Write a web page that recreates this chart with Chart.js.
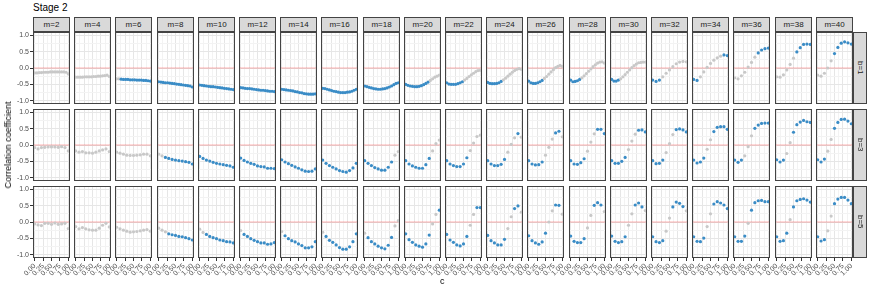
<!DOCTYPE html>
<html>
<head>
<meta charset="utf-8">
<script src="https://cdn.jsdelivr.net/npm/chart.js@4.4.1/dist/chart.umd.min.js"></script>
<style>
body{margin:0;background:#fff;font-family:"Liberation Sans",Arial,sans-serif;}
#fig{position:relative;width:872px;height:291px;overflow:hidden;background:#fff;}
#fig canvas{position:absolute;}
.strip{position:absolute;box-sizing:border-box;background:#d9d9d9;border:1px solid #444;color:#1a1a1a;font-size:8px;display:flex;align-items:center;justify-content:center;}
.strip.v span{writing-mode:vertical-rl;}
.lab{position:absolute;color:#000;white-space:nowrap;}
</style>
</head>
<body>
<div id="fig"></div>
<script>
// facets
const mValues = [2,4,6,8,10,12,14,16,18,20,22,24,26,28,30,32,34,36,38,40];
const bValues = [1,3,5];

// c values: fine grid (b=1, m<=30) and coarse grid
const cFine = [0,0.0667,0.1333,0.2,0.2667,0.3333,0.4,0.4667,0.5333,0.6,0.6667,0.7333,0.8,0.8667,0.9333,1];
const cCoarse = [0,0.1,0.2,0.3,0.4,0.5,0.6,0.7,0.8,0.9,1];

const xTicks = [0,0.25,0.5,0.75,1];
const xGrid = [0,0.125,0.25,0.375,0.5,0.625,0.75,0.875,1];
const yTicks = [-1,-0.5,0,0.5,1];
const yGrid = [-1,-0.75,-0.5,-0.25,0,0.25,0.5,0.75,1];
const refLine = 0;

// b=1
const rB1 = [
  [-0.15,-0.15,-0.14,-0.14,-0.13,-0.13,-0.13,-0.12,-0.12,-0.12,-0.12,-0.12,-0.12,-0.12,-0.13,-0.18],
  [-0.28,-0.28,-0.28,-0.28,-0.27,-0.27,-0.27,-0.27,-0.26,-0.26,-0.25,-0.25,-0.24,-0.23,-0.22,-0.26],
  [-0.33,-0.33,-0.34,-0.35,-0.35,-0.35,-0.36,-0.36,-0.36,-0.37,-0.37,-0.37,-0.38,-0.38,-0.39,-0.40],
  [-0.42,-0.43,-0.44,-0.45,-0.45,-0.46,-0.47,-0.48,-0.49,-0.50,-0.51,-0.52,-0.53,-0.54,-0.55,-0.58],
  [-0.52,-0.53,-0.54,-0.55,-0.56,-0.57,-0.57,-0.58,-0.59,-0.60,-0.61,-0.62,-0.63,-0.64,-0.65,-0.66],
  [-0.60,-0.61,-0.62,-0.63,-0.63,-0.64,-0.65,-0.66,-0.67,-0.68,-0.68,-0.69,-0.70,-0.71,-0.71,-0.72],
  [-0.65,-0.66,-0.67,-0.68,-0.69,-0.70,-0.72,-0.73,-0.75,-0.76,-0.78,-0.79,-0.80,-0.80,-0.80,-0.79],
  [-0.62,-0.63,-0.65,-0.67,-0.69,-0.71,-0.72,-0.74,-0.75,-0.75,-0.75,-0.74,-0.73,-0.71,-0.68,-0.65],
  [-0.55,-0.57,-0.59,-0.61,-0.63,-0.64,-0.65,-0.65,-0.64,-0.63,-0.61,-0.58,-0.55,-0.51,-0.47,-0.45],
  [-0.50,-0.53,-0.55,-0.56,-0.57,-0.57,-0.56,-0.54,-0.51,-0.47,-0.43,-0.38,-0.33,-0.28,-0.25,-0.22],
  [-0.45,-0.49,-0.50,-0.50,-0.50,-0.48,-0.45,-0.42,-0.37,-0.32,-0.26,-0.21,-0.16,-0.11,-0.08,-0.07],
  [-0.44,-0.47,-0.48,-0.48,-0.47,-0.45,-0.41,-0.36,-0.31,-0.25,-0.19,-0.13,-0.08,-0.04,-0.02,-0.04],
  [-0.40,-0.45,-0.47,-0.47,-0.45,-0.42,-0.38,-0.32,-0.26,-0.19,-0.12,-0.05,0.01,0.05,0.08,0.05],
  [-0.37,-0.42,-0.41,-0.39,-0.35,-0.30,-0.24,-0.17,-0.10,-0.03,0.04,0.10,0.15,0.18,0.19,0.15],
  [-0.35,-0.40,-0.40,-0.37,-0.33,-0.27,-0.20,-0.13,-0.06,0.01,0.07,0.12,0.16,0.17,0.18,0.18],
  [-0.37,-0.41,-0.37,-0.27,-0.16,-0.06,0.04,0.13,0.18,0.20,0.19],
  [-0.35,-0.38,-0.27,-0.12,0.02,0.14,0.24,0.31,0.36,0.40,0.38],
  [-0.30,-0.33,-0.24,-0.13,0.03,0.17,0.33,0.46,0.55,0.59,0.61],
  [-0.27,-0.28,-0.21,-0.06,0.11,0.30,0.49,0.62,0.72,0.73,0.72],
  [-0.22,-0.25,-0.16,0.00,0.22,0.44,0.63,0.76,0.80,0.77,0.73]
];
const sigB1 = [
  "0000000000000000","0000000000000000","0011111111111111","1111111111111111",
  "1111111111111111","1111111111111111","1111111111111111","1111111111111111",
  "1111111111111111","1111111111100000","1111111100000000","1111111000000000",
  "1111111000000000","1111100000000000","1111000000000000","11100000000",
  "11000000011","00000001111","00000011111","00000111111"
];

// b=3
const rB3 = [
  [-0.08,-0.12,-0.08,-0.07,-0.06,-0.06,-0.06,-0.07,-0.05,-0.08,-0.18],
  [-0.18,-0.22,-0.20,-0.24,-0.24,-0.25,-0.22,-0.18,-0.15,-0.12,-0.20],
  [-0.22,-0.25,-0.28,-0.31,-0.32,-0.32,-0.31,-0.30,-0.28,-0.28,-0.33],
  [-0.28,-0.33,-0.38,-0.41,-0.44,-0.46,-0.48,-0.49,-0.51,-0.53,-0.58],
  [-0.35,-0.41,-0.46,-0.49,-0.53,-0.56,-0.58,-0.60,-0.62,-0.64,-0.68],
  [-0.40,-0.47,-0.52,-0.56,-0.59,-0.64,-0.66,-0.67,-0.71,-0.71,-0.72],
  [-0.45,-0.52,-0.57,-0.62,-0.67,-0.71,-0.76,-0.80,-0.81,-0.80,-0.73],
  [-0.46,-0.56,-0.63,-0.68,-0.73,-0.78,-0.81,-0.83,-0.78,-0.70,-0.56],
  [-0.48,-0.56,-0.63,-0.69,-0.73,-0.77,-0.77,-0.68,-0.52,-0.31,-0.20],
  [-0.48,-0.58,-0.64,-0.68,-0.71,-0.71,-0.60,-0.41,-0.18,0.04,0.15],
  [-0.48,-0.58,-0.63,-0.66,-0.66,-0.58,-0.39,-0.17,0.06,0.26,0.30],
  [-0.48,-0.58,-0.63,-0.63,-0.59,-0.44,-0.22,0.02,0.22,0.35,0.24],
  [-0.48,-0.58,-0.61,-0.60,-0.52,-0.31,-0.07,0.18,0.37,0.42,0.25],
  [-0.48,-0.58,-0.59,-0.54,-0.42,-0.19,0.09,0.34,0.48,0.48,0.35],
  [-0.48,-0.56,-0.56,-0.50,-0.38,-0.14,0.12,0.33,0.45,0.46,0.40],
  [-0.48,-0.57,-0.56,-0.46,-0.23,0.04,0.32,0.47,0.49,0.46,0.40],
  [-0.46,-0.55,-0.52,-0.40,-0.13,0.16,0.41,0.54,0.56,0.56,0.48],
  [-0.46,-0.53,-0.46,-0.33,-0.05,0.28,0.51,0.61,0.66,0.67,0.67],
  [-0.45,-0.52,-0.46,-0.26,0.07,0.39,0.62,0.70,0.75,0.71,0.69],
  [-0.45,-0.52,-0.43,-0.19,0.17,0.51,0.69,0.78,0.79,0.73,0.65]
];
const sigB3 = [
  "00000000000","00000000000","00000000000","00111111111","11111111111",
  "11111111111","11111111111","11111111111","11111111100","11111111000",
  "11111110000","11111100010","11111000110","11111000111","11111000111",
  "11110001111","11110011111","11100011111","11100111111","11100111111"
];

// b=5
const rB5 = [
  [-0.06,-0.09,-0.11,-0.04,-0.04,-0.07,-0.03,-0.07,-0.06,-0.04,-0.20],
  [-0.14,-0.21,-0.17,-0.21,-0.24,-0.25,-0.25,-0.19,-0.10,-0.04,-0.15],
  [-0.16,-0.21,-0.25,-0.28,-0.31,-0.30,-0.29,-0.27,-0.25,-0.23,-0.28],
  [-0.19,-0.25,-0.30,-0.36,-0.39,-0.41,-0.44,-0.45,-0.48,-0.51,-0.55],
  [-0.22,-0.32,-0.38,-0.44,-0.48,-0.51,-0.55,-0.57,-0.60,-0.61,-0.64],
  [-0.26,-0.38,-0.44,-0.51,-0.56,-0.60,-0.64,-0.64,-0.68,-0.67,-0.63],
  [-0.29,-0.42,-0.51,-0.57,-0.61,-0.67,-0.72,-0.79,-0.79,-0.76,-0.60],
  [-0.31,-0.44,-0.56,-0.62,-0.70,-0.78,-0.83,-0.83,-0.76,-0.60,-0.36],
  [-0.34,-0.48,-0.60,-0.67,-0.74,-0.79,-0.82,-0.71,-0.47,-0.12,0.04],
  [-0.36,-0.54,-0.62,-0.70,-0.74,-0.77,-0.67,-0.40,-0.06,0.23,0.36],
  [-0.38,-0.55,-0.62,-0.70,-0.73,-0.67,-0.44,-0.10,0.23,0.44,0.44],
  [-0.41,-0.57,-0.64,-0.70,-0.70,-0.53,-0.20,0.16,0.41,0.49,0.30],
  [-0.42,-0.57,-0.64,-0.68,-0.61,-0.34,0.00,0.34,0.52,0.51,0.24],
  [-0.43,-0.59,-0.63,-0.63,-0.51,-0.18,0.20,0.51,0.59,0.52,0.32],
  [-0.43,-0.59,-0.63,-0.60,-0.45,-0.10,0.25,0.52,0.58,0.46,0.35],
  [-0.45,-0.60,-0.63,-0.57,-0.28,0.12,0.46,0.61,0.57,0.47,0.34],
  [-0.45,-0.59,-0.60,-0.49,-0.14,0.25,0.55,0.62,0.58,0.52,0.41],
  [-0.45,-0.59,-0.59,-0.43,-0.04,0.36,0.59,0.65,0.66,0.62,0.62],
  [-0.45,-0.59,-0.57,-0.34,0.07,0.46,0.65,0.69,0.71,0.67,0.61],
  [-0.45,-0.58,-0.54,-0.27,0.18,0.56,0.70,0.75,0.75,0.67,0.56]
];
const sigB5 = [
  "00000000000","00000000000","00000000000","00011111111","00111111111",
  "01111111111","01111111111","01111111111","01111111100","11111111001",
  "11111110011","11111100110","11111100110","11111001110","11111001110",
  "11110011110","11110011111","11110111111","11110111111","11100111111"
];

const rows = [[rB1,sigB1],[rB3,sigB3],[rB5,sigB5]];

// look
const BLUE = "#3a8cc6", GREY = "#c8c8c8";
const GRID_MAJOR = "#e6e6e6", GRID_MINOR = "#f3f3f3";
const BORDER = "#444";
const FONT = "'Liberation Sans', Arial, sans-serif";
const C_MIN = -0.05, C_MAX = 1.05, R_MIN = -1.1, R_MAX = 1.1;

// layout
const PANEL_X0 = 33, PANEL_DX = 41.2, PANEL_W = 37, PANEL_H = 72;
const ROW_TOP = [32,109,186];
const YAXIS_W = 33, XAXIS_H = 28, LABEL_PAD = 16;

const fig = document.getElementById("fig");
const near = (arr,v) => arr.some(t => Math.abs(t - v) < 1e-6);

const panelBorder = {
  id: "panelBorder",
  afterDraw(chart) {
    const a = chart.chartArea, ctx = chart.ctx;
    ctx.save();
    ctx.strokeStyle = BORDER;
    ctx.lineWidth = 1;
    ctx.strokeRect(a.left + 0.5, a.top + 0.5, a.right - a.left - 1, a.bottom - a.top - 1);
    ctx.restore();
  }
};

function addDiv(cls, text, css) {
  const d = document.createElement("div");
  d.className = cls;
  if (cls.includes(" v")) { const s = document.createElement("span"); s.textContent = text; d.appendChild(s); }
  else d.textContent = text;
  Object.assign(d.style, css);
  fig.appendChild(d);
  return d;
}

function makePanel(row, col) {
  const r = rows[row][0][col];
  const sig = rows[row][1][col];
  const cvals = r.length === cFine.length ? cFine : cCoarse;
  const left = PANEL_X0 + Math.round(col * PANEL_DX);
  const top = ROW_TOP[row];
  const isLeft = col === 0, isBottom = row === 2;
  const padL = isLeft ? YAXIS_W : (isBottom ? LABEL_PAD : 0);
  const cv = document.createElement("canvas");
  cv.width = PANEL_W + padL;
  cv.height = PANEL_H + (isBottom ? XAXIS_H : 0);
  cv.style.left = (left - padL) + "px";
  cv.style.top = top + "px";
  fig.appendChild(cv);

  new Chart(cv, {
    data: {
      datasets: [
        {
          type: "line",
          data: [{x: C_MIN, y: refLine}, {x: C_MAX, y: refLine}],
          borderColor: "rgba(255,0,0,0.3)",
          borderWidth: 1,
          pointRadius: 0,
          order: 2
        },
        {
          type: "scatter",
          data: cvals.map((c, i) => ({x: c, y: r[i]})),
          backgroundColor: sig.split("").map(s => s === "1" ? BLUE : GREY),
          pointRadius: 1.6,
          pointBorderWidth: 0,
          order: 1
        }
      ]
    },
    options: {
      responsive: false,
      animation: false,
      events: [],
      layout: {autoPadding: false, padding: {left: isLeft ? 0 : padL, right: 0, top: 0, bottom: 0}},
      plugins: {legend: {display: false}, tooltip: {enabled: false}},
      scales: {
        x: {
          type: "linear", min: C_MIN, max: C_MAX,
          afterBuildTicks: s => { s.ticks = xGrid.map(v => ({value: v})); },
          afterFit: s => { s.height = isBottom ? XAXIS_H : 0; s.paddingLeft = 0; s.paddingRight = 0; },
          border: {display: false},
          grid: {
            color: ctx => near(xTicks, ctx.tick.value) ? GRID_MAJOR : GRID_MINOR,
            lineWidth: 1,
            drawTicks: isBottom,
            tickLength: 3,
            tickColor: ctx => near(xTicks, ctx.tick.value) ? "#333" : "rgba(0,0,0,0)"
          },
          ticks: {
            display: isBottom, autoSkip: false, minRotation: 45, maxRotation: 45, padding: 1,
            color: "#4d4d4d", font: {size: 7, family: FONT},
            callback: v => near(xTicks, v) ? v.toFixed(2) : ""
          }
        },
        y: {
          type: "linear", min: R_MIN, max: R_MAX,
          afterBuildTicks: s => { s.ticks = yGrid.map(v => ({value: v})); },
          afterFit: s => { s.width = isLeft ? YAXIS_W : 0; s.paddingTop = 0; s.paddingBottom = 0; },
          border: {display: false},
          grid: {
            color: ctx => near(yTicks, ctx.tick.value) ? GRID_MAJOR : GRID_MINOR,
            lineWidth: 1,
            drawTicks: isLeft,
            tickLength: 3,
            tickColor: ctx => near(yTicks, ctx.tick.value) ? "#333" : "rgba(0,0,0,0)"
          },
          ticks: {
            display: isLeft, autoSkip: false, padding: 1,
            color: "#4d4d4d", font: {size: 7, family: FONT},
            callback: v => near(yTicks, v) ? v.toFixed(1) : ""
          }
        }
      }
    },
    plugins: [panelBorder]
  });
}

for (let row = 0; row < bValues.length; row++)
  for (let col = 0; col < mValues.length; col++)
    makePanel(row, col);

// strips
mValues.forEach((m, col) => {
  addDiv("strip", "m=" + m, {
    left: (PANEL_X0 + Math.round(col * PANEL_DX)) + "px", top: "17px",
    width: PANEL_W + "px", height: "15px"
  });
});
bValues.forEach((b, row) => {
  addDiv("strip v", "b=" + b, {
    left: "853px", top: ROW_TOP[row] + "px", width: "14px", height: PANEL_H + "px"
  });
});

// titles
addDiv("lab", "Stage 2", {left: "33px", top: "2px", fontSize: "10px"});
addDiv("lab", "c", {left: "440px", top: "276px", fontSize: "9px", color: "#000"});
addDiv("lab", "Correlation coefficient", {
  left: "8px", top: "145px", fontSize: "9px",
  transform: "translate(-50%,-50%) rotate(-90deg)"
});
</script>
</body>
</html>
